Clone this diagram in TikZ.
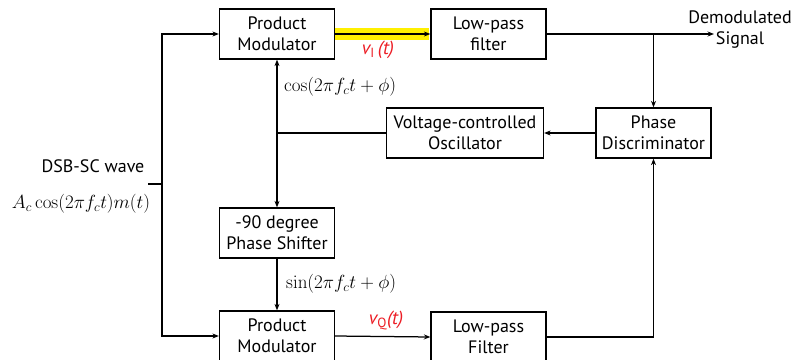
\RequirePackage{fix-cm}
\documentclass[tikz,border=0pt]{standalone}
\usepackage[no-math]{fontspec}
\setmainfont{PT Sans}
\usetikzlibrary{arrows.meta}
\definecolor{lblred}{RGB}{236,28,36}
\definecolor{hly}{RGB}{255,240,0}
\tikzset{
  blk/.style={draw, line width=1.25pt, minimum height=50pt, inner sep=0pt, align=center,
    font=\fontsize{18}{21}\selectfont},
  conn/.style={line width=1.25pt},
  arr/.style={conn, -{Stealth[length=6.5pt,width=5pt]}},
  lbl/.style={font=\fontsize{18}{21}\selectfont, inner sep=0pt},
  mathlbl/.style={font=\fontsize{19}{22}\selectfont, inner sep=0pt},
  redlbl/.style={text=lblred, font=\fontsize{19}{21}\selectfont\itshape, inner sep=0pt}
}
\begin{document}
\begin{tikzpicture}[x=1pt,y=-1pt]
\useasboundingbox (0,0) rectangle (793,359);
\clip (0,0) rectangle (793,359);
% highlight
\fill[hly] (334.5,28) rectangle (429,40);
% blocks
\node[blk, minimum width=115pt] (pm1) at (277,34) {Product\\Modulator};
\node[blk, minimum width=115pt] (lpf1) at (488.5,34) {Low-pass\\filter};
\node[blk, minimum width=115pt] (pd) at (653.5,133) {Phase\\Discriminator};
\node[blk, minimum width=157pt] (vco) at (465,133) {Voltage-controlled\\Oscillator};
\node[blk, minimum width=115pt] (sh) at (277,233) {-90 degree\\Phase Shifter};
\node[blk, minimum width=115pt] (pm2) at (277,336) {Product\\Modulator};
\node[blk, minimum width=115pt] (lpf2) at (488.5,337) {Low-pass\\Filter};
% coordinates
\coordinate (in) at (148,184);
\coordinate (j) at (162,184);
\coordinate (out) at (714,34);
\coordinate (br) at (653.5,34);
\coordinate (t) at (277,133);
% connectors
\draw[conn] (in) -- (j);
\draw[arr] (j) |- (pm1.west);
\draw[arr] (j) |- (pm2.west);
\draw[arr] (pm1.east) -- (lpf1.west);
\draw[arr] (lpf1.east) -- (out);
\draw[arr] (br) -- (pd.north);
\draw[arr] (pd.west) -- (vco.east);
\draw[conn] (vco.west) -- (t);
\draw[arr] (t) -- (pm1.south);
\draw[arr] (t) -- (sh.north);
\draw[arr] (sh.south) -- (pm2.north);
\draw[arr] (pm2.east) -- (lpf2.west);
\draw[arr] (lpf2.east) -| (pd.south);
% labels
\node[lbl, align=center] (demod) at (740,30) {Demodulated\\Signal};
\node[lbl] (dsb) at (93,166) {DSB-SC wave};
\node[mathlbl] (form) at (81,204) {$A_c\cos(2\pi f_c t)m(t)$};
\node[mathlbl, anchor=west] (cosl) at (284,87) {$\cos(2\pi f_c t+\phi)$};
\node[mathlbl, anchor=west] (sinl) at (286,284) {$\sin(2\pi f_c t+\phi)$};
\node[redlbl] (vi) at (378,50) {v\textsubscript{\upshape I}\,(t)};
\node[redlbl] (vq) at (386,320) {v\textsubscript{\upshape Q}(t)};
\end{tikzpicture}
\end{document}
